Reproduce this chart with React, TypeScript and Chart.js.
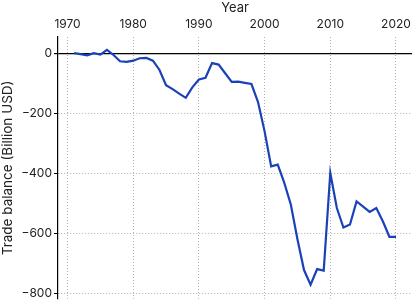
import React, { useEffect, useRef } from "react";
import { Chart, registerables } from "chart.js";

Chart.register(...registerables);

const years: number[] = [
  1971, 1972, 1973, 1974, 1975, 1976, 1977, 1978, 1979, 1980,
  1981, 1982, 1983, 1984, 1985, 1986, 1987, 1988, 1989, 1990,
  1991, 1992, 1993, 1994, 1995, 1996, 1997, 1998, 1999, 2000,
  2001, 2002, 2003, 2004, 2005, 2006, 2007, 2008, 2009, 2010,
  2011, 2012, 2013, 2014, 2015, 2016, 2017, 2018, 2019, 2020,
];
const balance: number[] = [
  2, -1, -5, 2, -3, 13, -4, -25, -27, -23,
  -15, -14, -23, -54, -105, -118, -133, -147, -112, -86,
  -80, -31, -36, -65, -94, -93, -97, -101, -161, -259,
  -376, -370, -431, -504, -619, -722, -771, -719, -724, -398,
  -515, -580, -570, -493, -510, -528, -515, -559, -611, -611,
];
const xTicks: number[] = [1970, 1980, 1990, 2000, 2010, 2020];
const yTicks: number[] = [0, -200, -400, -600, -800];

const FONT = "Inter";

export default function App() {
  const ref = useRef<HTMLCanvasElement>(null);
  useEffect(() => {
    document.body.style.margin = "0";
    const canvas = ref.current;
    if (!canvas) return;
    const chart = new Chart(canvas, {
      type: "line",
      data: {
        datasets: [
          {
            data: years.map((y, i) => ({ x: y, y: balance[i] })),
            borderColor: "#1a42b8",
            borderWidth: 2.2,
            pointRadius: 0,
            tension: 0,
            fill: false,
          },
        ],
      },
      options: {
        animation: false,
        responsive: false,
        maintainAspectRatio: false,
        layout: { padding: { left: 0, right: 3, top: 0, bottom: 3 } },
        plugins: { legend: { display: false }, tooltip: { enabled: false } },
        scales: {
          x: {
            type: "linear",
            position: "top",
            min: 1968.55,
            max: 2022.45,
            afterBuildTicks: (axis: any) => {
              axis.ticks = xTicks.map((v) => ({ value: v }));
            },
            afterFit: (s: any) => {
              s.height = 37;
            },
            title: {
              display: true,
              text: "Year",
              color: "#222",
              font: { family: FONT, size: 13 },
              padding: { top: 0, bottom: 2 },
            },
            ticks: {
              color: "#222",
              font: { family: FONT, size: 12 },
              padding: 5,
              maxRotation: 0,
              autoSkip: false,
              callback: (v: any) => String(v),
            },
            grid: {
              drawTicks: false,
              color: "#b0b0b0",
              lineWidth: 1,
            },
            border: { display: false, dash: [1, 2] },
          },
          y: {
            type: "linear",
            min: -818,
            max: 56,
            afterBuildTicks: (axis: any) => {
              axis.ticks = yTicks.map((v) => ({ value: v }));
            },
            afterFit: (s: any) => {
              s.width = 58;
            },
            title: {
              display: true,
              text: "Trade balance (Billion USD)",
              color: "#222",
              font: { family: FONT, size: 13.5 },
              padding: { top: 0, bottom: 2 },
            },
            ticks: {
              color: "#222",
              font: { family: FONT, size: 12 },
              padding: 2,
              autoSkip: false,
              callback: (v: any) => String(v).replace("-", "\u2212"),
            },
            grid: {
              drawTicks: true,
              tickLength: 4,
              tickColor: "#000",
              tickBorderDash: [],
              color: (ctx: any) =>
                ctx.tick && ctx.tick.value === 0 ? "#000" : "#b0b0b0",
              lineWidth: (ctx: any) =>
                ctx.tick && ctx.tick.value === 0 ? 1.2 : 1,
            },
            border: {
              display: true,
              color: "#000",
              width: 1.2,
              dash: (ctx: any) =>
                ctx.type === "tick" && ctx.tick && ctx.tick.value !== 0
                  ? [1, 2]
                  : [],
            },
          },
        },
      },
    });
    return () => chart.destroy();
  }, []);
  return (
    <div style={{ width: 416, height: 308 }}>
      <canvas ref={ref} width={416} height={308} />
    </div>
  );
}
